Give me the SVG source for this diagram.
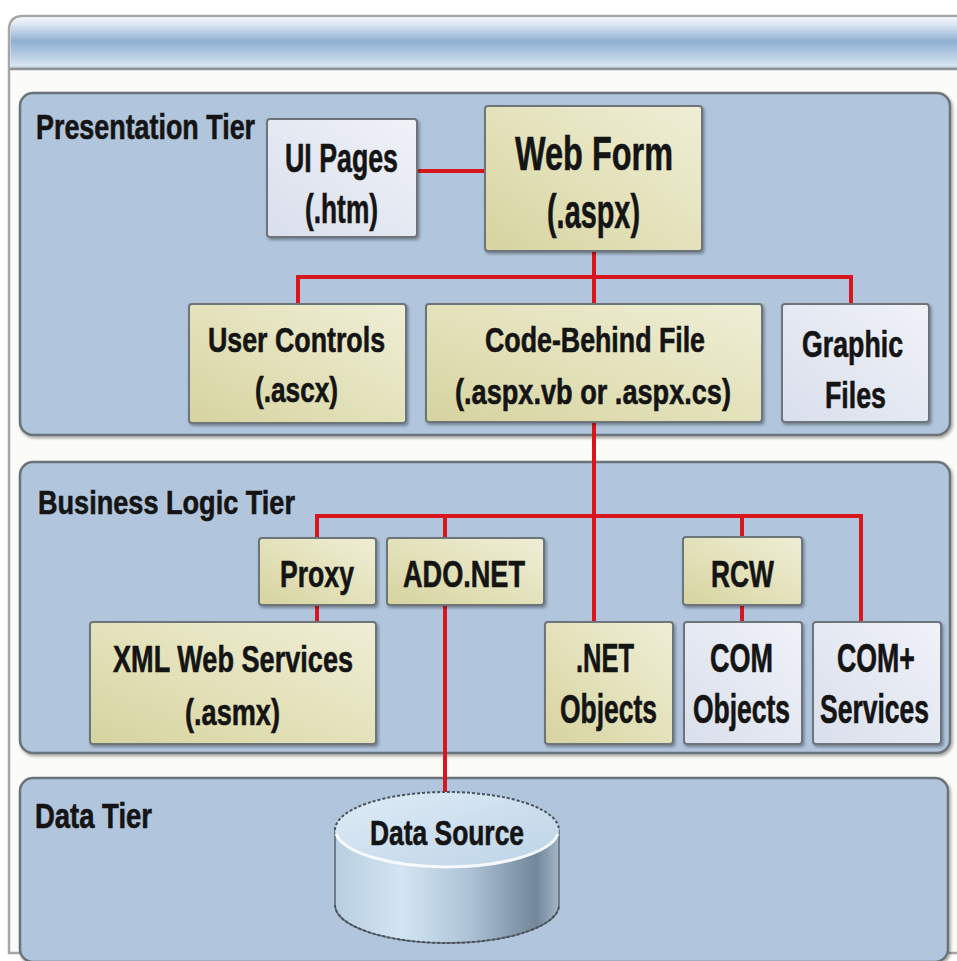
<svg xmlns="http://www.w3.org/2000/svg" width="957" height="961" viewBox="0 0 957 961">
<defs>
<linearGradient id="hdr" x1="0" y1="0" x2="0" y2="1">
<stop offset="0" stop-color="#f2f6fb"/>
<stop offset="0.12" stop-color="#dfe9f4"/>
<stop offset="0.45" stop-color="#8fb0d2"/>
<stop offset="0.75" stop-color="#bcd0e6"/>
<stop offset="0.92" stop-color="#d9e5f1"/>
<stop offset="1" stop-color="#9aa2aa"/>
</linearGradient>
<linearGradient id="khaki" x1="0" y1="1" x2="1" y2="0">
<stop offset="0" stop-color="#d6d3a0"/>
<stop offset="0.5" stop-color="#e4e2bb"/>
<stop offset="1" stop-color="#efeed6"/>
</linearGradient>
<linearGradient id="light" x1="0" y1="1" x2="1" y2="0">
<stop offset="0" stop-color="#d9dfec"/>
<stop offset="1" stop-color="#f0f2f8"/>
</linearGradient>
<linearGradient id="cylSide" x1="0" y1="0" x2="1" y2="0">
<stop offset="0" stop-color="#b8cedf"/>
<stop offset="0.3" stop-color="#d3e5f2"/>
<stop offset="0.6" stop-color="#adc3d5"/>
<stop offset="0.9" stop-color="#72879a"/>
<stop offset="1" stop-color="#a3b7c8"/>
</linearGradient>
<linearGradient id="cylTop" x1="0" y1="0" x2="1" y2="1">
<stop offset="0" stop-color="#dfecf7"/>
<stop offset="1" stop-color="#bcd3e6"/>
</linearGradient>
<filter id="sh" x="-10%" y="-10%" width="125%" height="130%">
<feDropShadow dx="1.5" dy="2" stdDeviation="1.5" flood-color="#000" flood-opacity="0.35"/>
</filter>
</defs>
<style>
.panel{fill:#b1c5dc;stroke:#6b727a;stroke-width:2.5}
.kbox{fill:url(#khaki);stroke:#6e747a;stroke-width:2}
.lbox{fill:url(#light);stroke:#6e747a;stroke-width:2}
.t{font-family:"Liberation Sans",Arial,sans-serif;font-weight:bold;fill:#141414;stroke:#141414;stroke-width:0.6}
.wire{stroke:#d9161e;stroke-width:4;fill:none}
</style>
<rect x="0" y="0" width="957" height="961" fill="#ffffff"/>
<g id="frame">
<path d="M9 953 V30 Q9 16 23 16 H960 V953 Z" fill="#fbfbf8" stroke="#a6a6a6" stroke-width="2.5"/>
<path d="M10.5 70 V30 Q10.5 17.5 24 17.5 H957 V70 Z" fill="url(#hdr)"/>
<line x1="10" y1="69" x2="957" y2="69" stroke="#8c9299" stroke-width="2.5"/>
</g>
<g id="panels">
<g id="presentation-tier">
<rect class="panel" x="20" y="93" width="930" height="342" rx="13" filter="url(#sh)"/>
<text class="t" transform="translate(36 139) scale(0.7 1)" font-size="36" textLength="312.9" lengthAdjust="spacingAndGlyphs">Presentation Tier</text>
</g>
<g id="business-tier">
<rect class="panel" x="20" y="462" width="930" height="291" rx="13" filter="url(#sh)"/>
<text class="t" transform="translate(38 514) scale(0.7 1)" font-size="34" textLength="367.1" lengthAdjust="spacingAndGlyphs">Business Logic Tier</text>
</g>
<g id="data-tier">
<rect class="panel" x="20" y="778" width="928" height="184" rx="13" filter="url(#sh)"/>
<text class="t" transform="translate(35 828) scale(0.7 1)" font-size="36" textLength="167.1" lengthAdjust="spacingAndGlyphs">Data Tier</text>
</g>
</g>
<g id="connectors">
<path class="wire" d="M417 171 H485"/>
<path class="wire" d="M594 251 V304"/>
<path class="wire" d="M298 304 V277 H851 V304"/>
<path class="wire" d="M594 422 V622"/>
<path class="wire" d="M317 538 V516 H861 V622"/>
<path class="wire" d="M445 516 V538"/>
<path class="wire" d="M742 516 V537"/>
<path class="wire" d="M317 605 V622"/>
<path class="wire" d="M742 605 V622"/>
<path class="wire" d="M445 605 V794"/>
</g>
<g id="ui-pages">
<rect class="lbox" x="267" y="119" width="150" height="118" rx="3" filter="url(#sh)"/>
<text class="t" transform="translate(285 172) scale(0.7 1)" font-size="41" textLength="161.4" lengthAdjust="spacingAndGlyphs">UI Pages</text>
<text class="t" transform="translate(305 223) scale(0.7 1)" font-size="41" textLength="104.3" lengthAdjust="spacingAndGlyphs">(.htm)</text>
</g>
<g id="web-form">
<rect class="kbox" x="485" y="106" width="217" height="145" rx="3" filter="url(#sh)"/>
<text class="t" transform="translate(515 170) scale(0.7 1)" font-size="48" textLength="225.7" lengthAdjust="spacingAndGlyphs">Web Form</text>
<text class="t" transform="translate(547 228) scale(0.7 1)" font-size="48" textLength="132.9" lengthAdjust="spacingAndGlyphs">(.aspx)</text>
</g>
<g id="user-controls">
<rect class="kbox" x="189" y="304" width="217" height="119" rx="3" filter="url(#sh)"/>
<text class="t" transform="translate(208 352) scale(0.7 1)" font-size="35" textLength="252.9" lengthAdjust="spacingAndGlyphs">User Controls</text>
<text class="t" transform="translate(255 402) scale(0.7 1)" font-size="35" textLength="118.6" lengthAdjust="spacingAndGlyphs">(.ascx)</text>
</g>
<g id="code-behind">
<rect class="kbox" x="426" y="304" width="336" height="118" rx="3" filter="url(#sh)"/>
<text class="t" transform="translate(485 352) scale(0.7 1)" font-size="35" textLength="314.3" lengthAdjust="spacingAndGlyphs">Code-Behind File</text>
<text class="t" transform="translate(455 404) scale(0.7 1)" font-size="35" textLength="394.3" lengthAdjust="spacingAndGlyphs">(.aspx.vb or .aspx.cs)</text>
</g>
<g id="graphic-files">
<rect class="lbox" x="782" y="304" width="147" height="118" rx="3" filter="url(#sh)"/>
<text class="t" transform="translate(802 357) scale(0.7 1)" font-size="37" textLength="144.3" lengthAdjust="spacingAndGlyphs">Graphic</text>
<text class="t" transform="translate(825 408) scale(0.7 1)" font-size="37" textLength="87.1" lengthAdjust="spacingAndGlyphs">Files</text>
</g>
<g id="proxy">
<rect class="kbox" x="259" y="538" width="117" height="67" rx="3" filter="url(#sh)"/>
<text class="t" transform="translate(280 587) scale(0.7 1)" font-size="37" textLength="105.7" lengthAdjust="spacingAndGlyphs">Proxy</text>
</g>
<g id="ado-net">
<rect class="kbox" x="387" y="538" width="157" height="67" rx="3" filter="url(#sh)"/>
<text class="t" transform="translate(403 587) scale(0.7 1)" font-size="37" textLength="174.3" lengthAdjust="spacingAndGlyphs">ADO.NET</text>
</g>
<g id="rcw">
<rect class="kbox" x="683" y="537" width="119" height="68" rx="3" filter="url(#sh)"/>
<text class="t" transform="translate(711 587) scale(0.7 1)" font-size="37" textLength="90" lengthAdjust="spacingAndGlyphs">RCW</text>
</g>
<g id="xml-web-services">
<rect class="kbox" x="90" y="622" width="286" height="122" rx="3" filter="url(#sh)"/>
<text class="t" transform="translate(113 672) scale(0.7 1)" font-size="37" textLength="342.9" lengthAdjust="spacingAndGlyphs">XML Web Services</text>
<text class="t" transform="translate(185 725) scale(0.7 1)" font-size="37" textLength="135.7" lengthAdjust="spacingAndGlyphs">(.asmx)</text>
</g>
<g id="net-objects">
<rect class="kbox" x="545" y="622" width="128" height="122" rx="3" filter="url(#sh)"/>
<text class="t" transform="translate(576 672) scale(0.7 1)" font-size="40" textLength="82.9" lengthAdjust="spacingAndGlyphs">.NET</text>
<text class="t" transform="translate(560 723) scale(0.7 1)" font-size="40" textLength="138.6" lengthAdjust="spacingAndGlyphs">Objects</text>
</g>
<g id="com-objects">
<rect class="lbox" x="684" y="622" width="118" height="122" rx="3" filter="url(#sh)"/>
<text class="t" transform="translate(710 672) scale(0.7 1)" font-size="40" textLength="90" lengthAdjust="spacingAndGlyphs">COM</text>
<text class="t" transform="translate(693 723) scale(0.7 1)" font-size="40" textLength="138.6" lengthAdjust="spacingAndGlyphs">Objects</text>
</g>
<g id="com-plus-services">
<rect class="lbox" x="813" y="622" width="128" height="122" rx="3" filter="url(#sh)"/>
<text class="t" transform="translate(837 672) scale(0.7 1)" font-size="40" textLength="111.4" lengthAdjust="spacingAndGlyphs">COM+</text>
<text class="t" transform="translate(820 723) scale(0.7 1)" font-size="40" textLength="155.7" lengthAdjust="spacingAndGlyphs">Services</text>
</g>
<g id="data-source">
<path d="M335 830 V905 A112 38 0 0 0 559 905 V830 Z" fill="url(#cylSide)" stroke="#5b6670" stroke-width="1.5"/>
<path d="M335 905 A112 38 0 0 0 559 905" fill="none" stroke="#4a545c" stroke-width="2" stroke-dasharray="3 2"/>
<ellipse cx="447" cy="830" rx="112" ry="38" fill="url(#cylTop)"/>
<path d="M336 834 A112 38 0 0 0 558 834" fill="none" stroke="#ffffff" stroke-width="3" opacity="0.85"/>
<path d="M335 830 A112 38 0 0 1 559 830" fill="none" stroke="#4a545c" stroke-width="2" stroke-dasharray="3 2"/>
<text class="t" transform="translate(370 845) scale(0.7 1)" font-size="35" textLength="220" lengthAdjust="spacingAndGlyphs">Data Source</text>
</g>
</svg>
